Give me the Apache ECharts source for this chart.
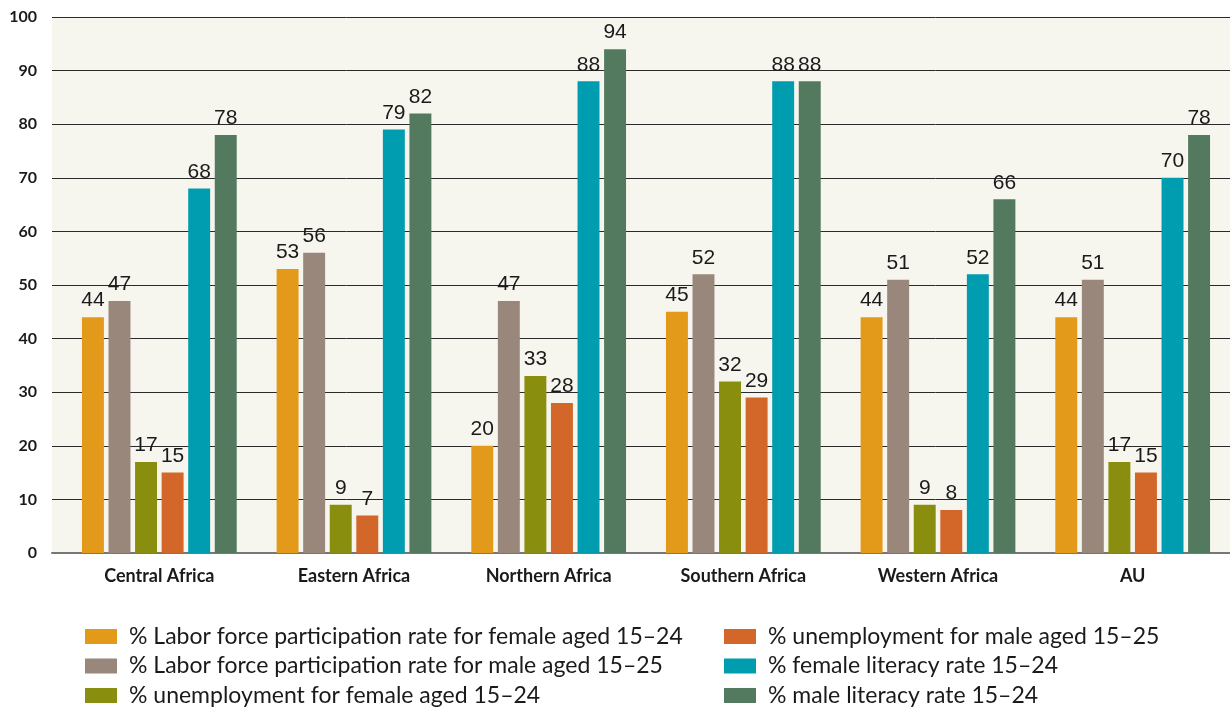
<!DOCTYPE html>
<html>
<head>
<meta charset="utf-8">
<script src="https://cdn.jsdelivr.net/npm/echarts@6/dist/echarts.min.js"></script>
<style>
	html, body { margin: 0; padding: 0; background: #fff; }
	#main { width: 1230px; height: 710px; }
</style>
</head>
<body>
<div id="main"></div>
<script>
// regions on the x axis
const regions = ['Central Africa', 'Eastern Africa', 'Northern Africa', 'Southern Africa', 'Western Africa', 'AU'];

const seriesNames = [
	'% Labor force participation rate for female aged 15\u201324',
	'% Labor force participation rate for male aged 15\u201325',
	'% unemployment for female aged 15\u201324',
	'% unemployment for male aged 15\u201325',
	'% female literacy rate 15\u201324',
	'% male literacy rate 15\u201324'
];

const laborFemale = [44, 53, 20, 45, 44, 44];
const laborMale = [47, 56, 47, 52, 51, 51];
const unempFemale = [17, 9, 33, 32, 9, 17];
const unempMale = [15, 7, 28, 29, 8, 15];
const literacyFemale = [68, 79, 88, 88, 52, 70];
const literacyMale = [78, 82, 94, 88, 66, 78];

const colors = ['#e39a1b', '#99877c', '#8a8e0e', '#d3672a', '#009db0', '#537a5f'];

const values = [laborFemale, laborMale, unempFemale, unempMale, literacyFemale, literacyMale];

let myChart = echarts.init(document.getElementById('main'));

let series = values.map(function (arr, i) {
	return {
		name: seriesNames[i],
		type: 'bar',
		xAxisIndex: 1,
		yAxisIndex: 1,
		data: arr,
		barGap: '21%',
		barCategoryGap: '20.5%',
		itemStyle: { color: colors[i] },
		label: {
			show: true,
			position: 'top',
			distance: 6,
			color: '#1a1a1a',
			fontFamily: 'Liberation Sans',
			fontSize: 21
		}
	}
})

let legendText = {
	color: '#1a1a1a',
	fontFamily: 'Lato',
	fontSize: 23,
	lineHeight: 23,
	padding: [0, 0, 0, 7]
}

let legendBase = {
	orient: 'vertical',
	top: 625,
	height: 100,
	padding: 0,
	itemWidth: 32,
	itemHeight: 15,
	itemGap: 6.5,
	icon: 'rect',
	textStyle: legendText
}

let option = {
	animation: false,
	color: colors,
	grid: [{
		// background + gridlines
		left: 52,
		right: 0,
		top: 17,
		bottom: 157,
		show: true,
		backgroundColor: '#f7f6ee',
		borderWidth: 0
	}, {
		// bars
		left: 62,
		right: -2,
		top: 17,
		bottom: 157
	}],
	legend: [
		Object.assign({}, legendBase, { data: seriesNames.slice(0, 3), left: 85 }),
		Object.assign({}, legendBase, { data: seriesNames.slice(3), left: 724 })
	],
	xAxis: [{
		type: 'category',
		gridIndex: 0,
		data: regions,
		axisTick: { show: false },
		axisLabel: { show: false },
		axisLine: { lineStyle: { color: '#777', width: 2 } }
	}, {
		type: 'category',
		gridIndex: 1,
		data: regions,
		axisTick: { show: false },
		axisLine: { show: false },
		axisLabel: {
			margin: 14,
			color: '#1a1a1a',
			fontWeight: 'bold',
			fontFamily: 'Lato',
			fontSize: 18
		}
	}],
	yAxis: [{
		type: 'value',
		gridIndex: 0,
		min: 0,
		max: 100,
		interval: 10,
		axisLine: { show: false },
		axisTick: { show: false },
		axisLabel: {
			margin: 15,
			color: '#1a1a1a',
			fontWeight: 'bold',
			fontFamily: 'Lato',
			fontSize: 16
		},
		splitLine: { lineStyle: { color: '#2a2a2a', width: 1 } }
	}, {
		type: 'value',
		gridIndex: 1,
		min: 0,
		max: 100,
		interval: 10,
		show: false,
		splitLine: { show: false }
	}],
	series: series
}
myChart.setOption(option);
</script>
</body>
</html>
